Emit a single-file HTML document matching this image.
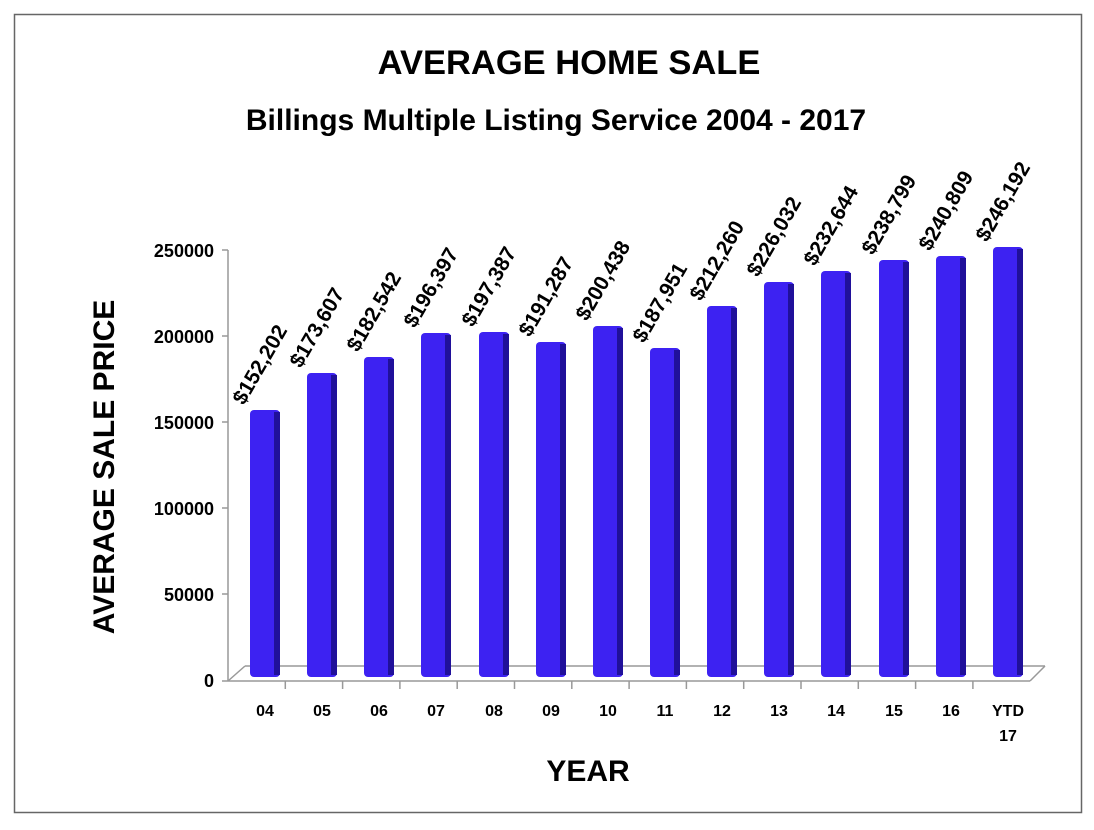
<!DOCTYPE html>
<html><head><style>
body{margin:0;background:#fff;}
svg{display:block;font-family:"Liberation Sans",sans-serif;font-weight:bold;}
</style></head><body>
<svg width="1094" height="830" viewBox="0 0 1094 830">
<rect x="14.5" y="14.5" width="1067" height="798" fill="none" stroke="#666" stroke-width="1.5"/>
<text x="569" y="74" font-size="34.5" text-anchor="middle">AVERAGE HOME SALE</text>
<text x="556" y="130" font-size="30" text-anchor="middle">Billings Multiple Listing Service 2004 - 2017</text>
<text transform="translate(114,467) rotate(-90)" font-size="30" text-anchor="middle">AVERAGE SALE PRICE</text>
<text x="588" y="781" font-size="30" text-anchor="middle">YEAR</text>
<g font-size="18" text-anchor="end">
<text x="214" y="257">250000</text>
<text x="214" y="343">200000</text>
<text x="214" y="429">150000</text>
<text x="214" y="515">100000</text>
<text x="214" y="601">50000</text>
<text x="214" y="687">0</text>
</g>
<g stroke="#999" stroke-width="1.5" fill="none">
<line x1="228" y1="250" x2="228" y2="681"/>
<line x1="228" y1="681" x2="1030" y2="681"/>
<line x1="245" y1="666" x2="1045" y2="666"/>
<line x1="228" y1="681" x2="245" y2="666"/>
<line x1="1030" y1="681" x2="1045" y2="666"/>
<line x1="222" y1="250" x2="228" y2="250"/><line x1="222" y1="336" x2="228" y2="336"/><line x1="222" y1="422" x2="228" y2="422"/><line x1="222" y1="508" x2="228" y2="508"/><line x1="222" y1="594" x2="228" y2="594"/><line x1="222" y1="681" x2="228" y2="681"/>
<line x1="285.3" y1="681" x2="285.3" y2="689"/><line x1="342.6" y1="681" x2="342.6" y2="689"/><line x1="399.9" y1="681" x2="399.9" y2="689"/><line x1="457.2" y1="681" x2="457.2" y2="689"/><line x1="514.5" y1="681" x2="514.5" y2="689"/><line x1="571.8" y1="681" x2="571.8" y2="689"/><line x1="629.1" y1="681" x2="629.1" y2="689"/><line x1="686.4" y1="681" x2="686.4" y2="689"/><line x1="743.7" y1="681" x2="743.7" y2="689"/><line x1="801" y1="681" x2="801" y2="689"/><line x1="858.3" y1="681" x2="858.3" y2="689"/><line x1="915.6" y1="681" x2="915.6" y2="689"/><line x1="972.9" y1="681" x2="972.9" y2="689"/>
</g>
<g fill="#3d22f2">
<rect x="250" y="410" width="30" height="267" rx="4"/>
<rect x="307" y="373" width="30" height="304" rx="4"/>
<rect x="364" y="357" width="30" height="320" rx="4"/>
<rect x="421" y="333" width="30" height="344" rx="4"/>
<rect x="479" y="332" width="30" height="345" rx="4"/>
<rect x="536" y="342" width="30" height="335" rx="4"/>
<rect x="593" y="326" width="30" height="351" rx="4"/>
<rect x="650" y="348" width="30" height="329" rx="4"/>
<rect x="707" y="306" width="30" height="371" rx="4"/>
<rect x="764" y="282" width="30" height="395" rx="4"/>
<rect x="821" y="271" width="30" height="406" rx="4"/>
<rect x="879" y="260" width="30" height="417" rx="4"/>
<rect x="936" y="256" width="30" height="421" rx="4"/>
<rect x="993" y="247" width="30" height="430" rx="4"/>
</g>
<g fill="#20109a">
<rect x="274" y="412" width="6" height="263"/>
<rect x="331" y="375" width="6" height="300"/>
<rect x="388" y="359" width="6" height="316"/>
<rect x="445" y="335" width="6" height="340"/>
<rect x="503" y="334" width="6" height="341"/>
<rect x="560" y="344" width="6" height="331"/>
<rect x="617" y="328" width="6" height="347"/>
<rect x="674" y="350" width="6" height="325"/>
<rect x="731" y="308" width="6" height="367"/>
<rect x="788" y="284" width="6" height="391"/>
<rect x="845" y="273" width="6" height="402"/>
<rect x="903" y="262" width="6" height="413"/>
<rect x="960" y="258" width="6" height="417"/>
<rect x="1017" y="249" width="6" height="426"/>
</g>
<g font-size="16" text-anchor="middle">
<text x="265" y="716">04</text><text x="322" y="716">05</text><text x="379" y="716">06</text><text x="436" y="716">07</text><text x="494" y="716">08</text><text x="551" y="716">09</text><text x="608" y="716">10</text><text x="665" y="716">11</text><text x="722" y="716">12</text><text x="779" y="716">13</text><text x="836" y="716">14</text><text x="894" y="716">15</text><text x="951" y="716">16</text><text x="1008" y="716">YTD</text><text x="1008" y="741">17</text>
</g>
<g font-size="21">
<text transform="translate(244,406) rotate(-60)">$152,202</text>
<text transform="translate(301,369) rotate(-60)">$173,607</text>
<text transform="translate(358,353) rotate(-60)">$182,542</text>
<text transform="translate(415,329) rotate(-60)">$196,397</text>
<text transform="translate(473,328) rotate(-60)">$197,387</text>
<text transform="translate(530,338) rotate(-60)">$191,287</text>
<text transform="translate(587,322) rotate(-60)">$200,438</text>
<text transform="translate(644,344) rotate(-60)">$187,951</text>
<text transform="translate(701,302) rotate(-60)">$212,260</text>
<text transform="translate(758,278) rotate(-60)">$226,032</text>
<text transform="translate(815,267) rotate(-60)">$232,644</text>
<text transform="translate(873,256) rotate(-60)">$238,799</text>
<text transform="translate(930,252) rotate(-60)">$240,809</text>
<text transform="translate(987,243) rotate(-60)">$246,192</text>
</g>
</svg>
</body></html>
